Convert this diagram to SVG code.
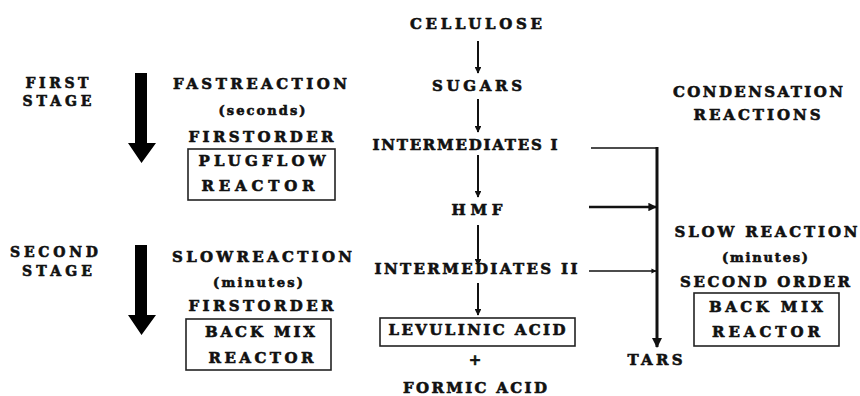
<svg xmlns="http://www.w3.org/2000/svg" width="860" height="396" viewBox="0 0 860 396">
  <defs>
    <style>
      text { font-family: 'DejaVu Serif', 'Liberation Serif', serif; font-weight: 700; fill: #111; stroke: #111; stroke-width: 0.6; text-anchor: middle; }
      .t { font-size: 15px; }
      .g { font-size: 14px; }
      .s { font-size: 13px; }
      .box { fill: none; stroke: #222; stroke-width: 1.6; }
      .flow { stroke: #111; stroke-width: 2; fill: none; }
      .side { stroke: #111; fill: none; }
      .big { fill: #000; }
    </style>
    <marker id="tip" viewBox="0 0 10 10" refX="9" refY="5" markerWidth="3.4" markerHeight="3.4" orient="auto" markerUnits="strokeWidth">
      <path d="M0,0 L10,5 L0,10 z" fill="#111"/>
    </marker>
  </defs>

  <rect width="860" height="396" fill="#fff"/>

  <!-- stage labels -->
  <g id="first-stage">
    <text class="g" x="57" y="88" textLength="63" lengthAdjust="spacing">FIRST</text>
    <text class="g" x="57" y="106" textLength="69" lengthAdjust="spacing">STAGE</text>
  </g>
  <g id="second-stage">
    <text class="g" x="54" y="257" textLength="88" lengthAdjust="spacing">SECOND</text>
    <text class="g" x="57" y="276" textLength="70" lengthAdjust="spacing">STAGE</text>
  </g>

  <!-- heavy stage arrows -->
  <g id="stage-arrow-1">
    <path class="big" d="M135,73 H147 V143 H156 L141.5,163 L128,143 H135 Z"/>
  </g>
  <g id="stage-arrow-2">
    <path class="big" d="M135,245 H147 V315 H156 L141.5,335 L128,315 H135 Z"/>
  </g>

  <!-- first stage conditions -->
  <g id="fast-reaction">
    <text class="t" x="260" y="89" textLength="174" lengthAdjust="spacing">FASTREACTION</text>
    <text class="s" x="262" y="115" textLength="87" lengthAdjust="spacing">(seconds)</text>
    <text class="t" x="261" y="142" textLength="145" lengthAdjust="spacing">FIRSTORDER</text>
  </g>
  <g id="plug-flow-reactor">
    <rect class="box" x="188" y="149" width="147" height="51"/>
    <text class="t" x="262" y="166" textLength="127" lengthAdjust="spacing">PLUGFLOW</text>
    <text class="t" x="258" y="191" textLength="113" lengthAdjust="spacing">REACTOR</text>
  </g>

  <!-- second stage conditions -->
  <g id="slow-reaction">
    <text class="t" x="262" y="262" textLength="180" lengthAdjust="spacing">SLOWREACTION</text>
    <text class="s" x="258" y="287" textLength="90" lengthAdjust="spacing">(minutes)</text>
    <text class="t" x="261" y="311" textLength="145" lengthAdjust="spacing">FIRSTORDER</text>
  </g>
  <g id="back-mix-reactor-1">
    <rect class="box" x="186" y="319" width="145" height="51"/>
    <text class="t" x="260" y="337" textLength="110" lengthAdjust="spacing">BACK MIX</text>
    <text class="t" x="261" y="363" textLength="105" lengthAdjust="spacing">REACTOR</text>
  </g>

  <!-- main reaction chain -->
  <g id="cellulose"><text class="t" x="476" y="29" textLength="132" lengthAdjust="spacing">CELLULOSE</text></g>
  <g id="sugars"><text class="t" x="477" y="91" textLength="90" lengthAdjust="spacing">SUGARS</text></g>
  <g id="intermediates-1"><text class="t" x="465" y="150" textLength="185" lengthAdjust="spacing">INTERMEDIATES I</text></g>
  <g id="hmf"><text class="t" x="477" y="215" textLength="51" lengthAdjust="spacing">HMF</text></g>
  <g id="intermediates-2"><text class="t" x="476" y="274" textLength="203" lengthAdjust="spacing">INTERMEDIATES II</text></g>
  <g id="levulinic-acid">
    <rect class="box" x="380" y="318" width="195" height="28"/>
    <text class="t" x="477" y="335" textLength="177" lengthAdjust="spacing">LEVULINIC ACID</text>
  </g>
  <g id="plus"><text class="t" x="475" y="365">+</text></g>
  <g id="formic-acid"><text class="t" x="475" y="393" textLength="144" lengthAdjust="spacing">FORMIC ACID</text></g>

  <!-- condensation side -->
  <g id="condensation">
    <text class="t" x="758" y="97" textLength="170" lengthAdjust="spacing">CONDENSATION</text>
    <text class="t" x="757" y="120" textLength="127" lengthAdjust="spacing">REACTIONS</text>
  </g>
  <g id="tars"><text class="t" x="655" y="365" textLength="55" lengthAdjust="spacing">TARS</text></g>
  <g id="slow-reaction-2">
    <text class="t" x="766" y="237" textLength="183" lengthAdjust="spacing">SLOW REACTION</text>
    <text class="s" x="765" y="262" textLength="86" lengthAdjust="spacing">(minutes)</text>
    <text class="t" x="765" y="287" textLength="170" lengthAdjust="spacing">SECOND ORDER</text>
  </g>
  <g id="back-mix-reactor-2">
    <rect class="box" x="694" y="293" width="145" height="53"/>
    <text class="t" x="766" y="312" textLength="114" lengthAdjust="spacing">BACK MIX</text>
    <text class="t" x="766" y="337" textLength="108" lengthAdjust="spacing">REACTOR</text>
  </g>

  <!-- connectors -->
  <g id="connectors">
    <line class="flow" x1="478" y1="41" x2="478" y2="73" marker-end="url(#tip)"/>
    <line class="flow" x1="478" y1="99" x2="478" y2="132" marker-end="url(#tip)"/>
    <line class="flow" x1="478" y1="155" x2="478" y2="197" marker-end="url(#tip)"/>
    <line class="flow" x1="478" y1="225" x2="478" y2="265" marker-end="url(#tip)"/>
    <line class="flow" x1="478" y1="283" x2="478" y2="315" marker-end="url(#tip)"/>

    <polyline class="side" stroke-width="1.5" points="591,148 657,148"/>
    <line class="side" stroke-width="3" x1="657" y1="147" x2="657" y2="347" marker-end="url(#tip)"/>
    <line class="side" stroke-width="2.5" x1="589" y1="207" x2="656" y2="207" marker-end="url(#tip)"/>
    <line class="side" stroke-width="1.5" x1="589" y1="271" x2="656" y2="271" marker-end="url(#tip)"/>
  </g>
</svg>
